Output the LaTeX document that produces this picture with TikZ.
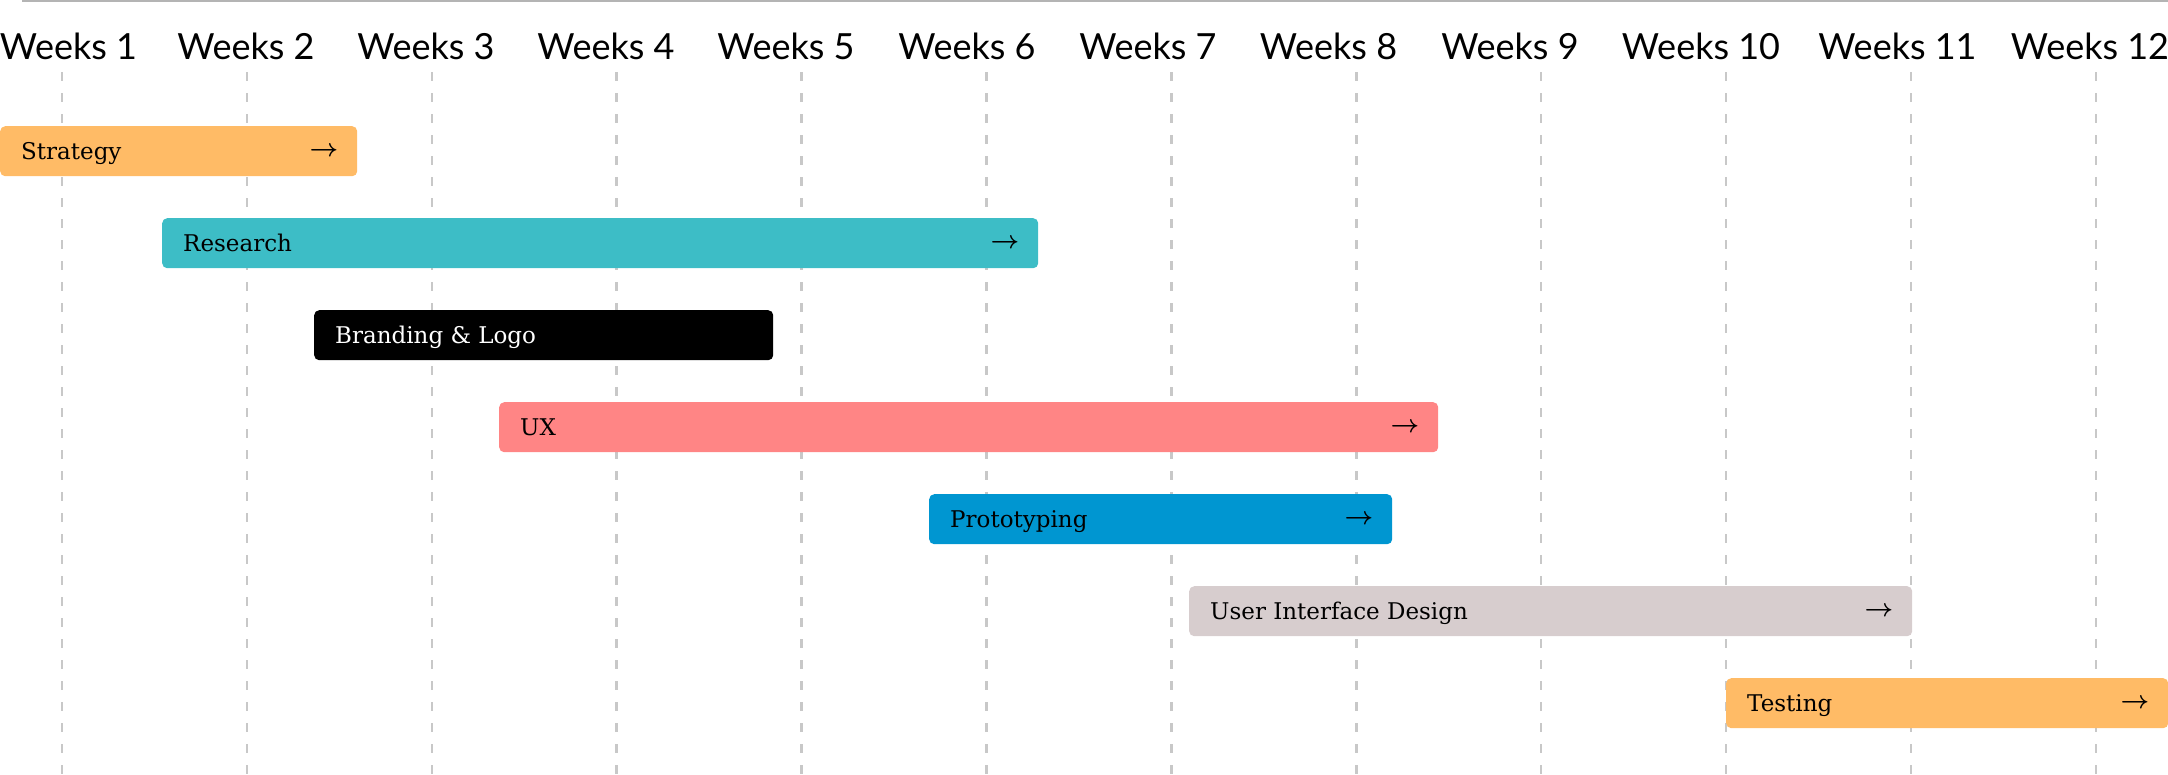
\documentclass[tikz,border=0pt]{standalone}
\usepackage{fontspec}
\setmainfont{DejaVu Serif}
\newfontfamily\weekfont{Lato}
\definecolor{cOrange}{HTML}{FFBB66}
\definecolor{cTeal}{HTML}{3DBDC6}
\definecolor{cSalmon}{HTML}{FF8585}
\definecolor{cBlue}{HTML}{0096D1}
\definecolor{cMauve}{HTML}{D7CDCE}
\definecolor{cGrid}{HTML}{C8C8C8}
\definecolor{cTop}{HTML}{B4B4B4}
\begin{document}
\begin{tikzpicture}[x=1pt,y=-1pt,
  gridline/.style={draw=cGrid,line width=2.5pt,dash pattern=on 9pt off 12pt},
  weeklabel/.style={anchor=base,inner sep=0pt,font=\weekfont\fontsize{36}{40}\selectfont},
  bar/.style={anchor=north west,rounded corners=5pt,minimum height=50pt,inner sep=0pt},
  bartext/.style={anchor=base west,inner sep=0pt,font=\fontsize{23}{26}\selectfont},
  bararrow/.style={anchor=east,inner sep=0pt,font=\fontsize{25}{25}\selectfont\boldmath}
]
\useasboundingbox (0,0) rectangle (2168,774);
\draw[cTop,line width=2pt] (22,1) -- (2168,1);
% grid lines
\foreach \i in {0,...,11}{
  \draw[gridline] ({62+184.9*\i},72) -- ({62+184.9*\i},774);
}
% week labels
\foreach \c/\n [count=\k] in {68.5/1,246/2,426/3,606/4,786/5,967/6,1148/7,1328.5/8,1510/9,1701/10,1897.5/11,2090/12}{
  \node[weeklabel] (w\k) at (\c,59) {Weeks \n};
}
% bars
\node[bar,fill=cOrange,minimum width=357pt] (b1) at (0,126) {};
\node[bar,fill=cTeal,minimum width=876pt] (b2) at (162,218) {};
\node[bar,fill=black,minimum width=459pt] (b3) at (314,310) {};
\node[bar,fill=cSalmon,minimum width=939pt] (b4) at (499,402) {};
\node[bar,fill=cBlue,minimum width=463pt] (b5) at (929,494) {};
\node[bar,fill=cMauve,minimum width=723pt] (b6) at (1189,586) {};
\node[bar,fill=cOrange,minimum width=442pt] (b7) at (1726,678) {};
% texts
\node[bartext] (t1) at ([xshift=21pt,yshift=-8pt]b1.west) {Strategy};
\node[bartext] (t2) at ([xshift=21pt,yshift=-8pt]b2.west) {Research};
\node[bartext,text=white] (t3) at ([xshift=21pt,yshift=-8pt]b3.west) {Branding \& Logo};
\node[bartext] (t4) at ([xshift=21pt,yshift=-8pt]b4.west) {UX};
\node[bartext] (t5) at ([xshift=21pt,yshift=-8pt]b5.west) {Prototyping};
\node[bartext] (t6) at ([xshift=21pt,yshift=-8pt]b6.west) {User Interface Design};
\node[bartext] (t7) at ([xshift=21pt,yshift=-8pt]b7.west) {Testing};
% arrows
\foreach \b in {b1,b2,b4,b5,b6,b7}{
  \node[bararrow] (a\b) at ([xshift=-19pt]\b.east) {$\rightarrow$};
}
\end{tikzpicture}
\end{document}
